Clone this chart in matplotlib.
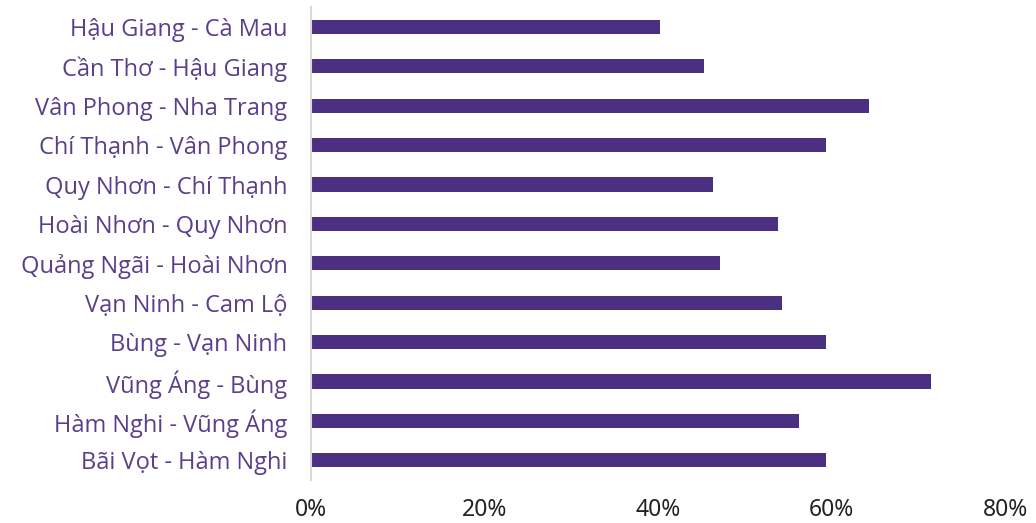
import matplotlib
matplotlib.use("Agg")
import matplotlib.pyplot as plt
from matplotlib.ticker import FuncFormatter

# dữ liệu (từ dưới lên trên)
segments = [
    "Bãi Vọt - Hàm Nghi",
    "Hàm Nghi - Vũng Áng",
    "Vũng Áng - Bùng",
    "Bùng - Vạn Ninh",
    "Vạn Ninh - Cam Lộ",
    "Quảng Ngãi - Hoài Nhơn",
    "Hoài Nhơn - Quy Nhơn",
    "Quy Nhơn - Chí Thạnh",
    "Chí Thạnh - Vân Phong",
    "Vân Phong - Nha Trang",
    "Cần Thơ - Hậu Giang",
    "Hậu Giang - Cà Mau",
]
shares = [59.4, 56.3, 71.5, 59.4, 54.3, 47.2, 53.8, 46.3, 59.4, 64.3, 45.3, 40.2]
xticks = [0, 20, 40, 60, 80]

bar_color = "#4B3082"
label_color = "#5B3F8A"

fig = plt.figure(figsize=(10.36, 5.23), dpi=100)
ax = fig.add_axes([0.3002, 0.0822, 0.6699, 0.904])

ax.barh(range(len(segments)), shares, height=0.36, color=bar_color)

ax.set_xlim(0, 80)
ax.set_ylim(-0.5, len(segments) - 0.5)
ax.set_xticks(xticks)
ax.xaxis.set_major_formatter(FuncFormatter(lambda v, p: f"{v:.0f}%"))
ax.set_yticks(range(len(segments)))
ax.set_yticklabels(segments, fontsize=17, color=label_color, family=["Open Sans", "DejaVu Sans"])

ax.tick_params(axis="y", length=0, pad=17)
ax.tick_params(axis="x", length=0, pad=13, labelsize=16.5, labelcolor="#222222")
for lab in ax.get_xticklabels():
    lab.set_family(["Noto Sans", "DejaVu Sans"])

for s in ["top", "right", "bottom"]:
    ax.spines[s].set_visible(False)
ax.spines["left"].set_color("#D9D9D9")
ax.spines["left"].set_linewidth(1.5)

fig.savefig("out.png", dpi=100)
